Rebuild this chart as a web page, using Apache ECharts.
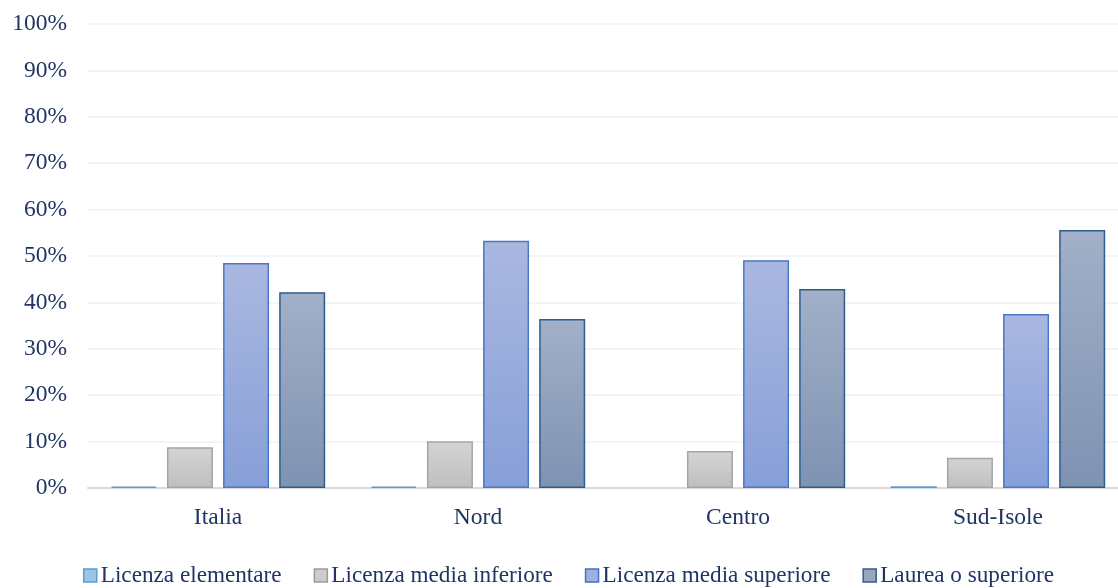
<!DOCTYPE html>
<html>
<head>
<meta charset="utf-8">
<script src="https://cdn.jsdelivr.net/npm/echarts@6/dist/echarts.min.js"></script>
<style>
  html, body { margin: 0; padding: 0; background: #fff; overflow: hidden; }
  /* plot area runs slightly past the right edge of the window, as in the original */
  #chart { width: 1128px; height: 588px; }
</style>
</head>
<body>
<div id="chart"></div>
<script>
// data (percent)
const areas = ['Italia', 'Nord', 'Centro', 'Sud-Isole']
const elementare = [0.3, 0.3, 0.0, 0.4]
const mediaInferiore = [8.8, 10.1, 8.0, 6.5]
const mediaSuperiore = [48.5, 53.3, 49.1, 37.5]
const laurea = [42.2, 36.4, 42.9, 55.6]

const textColor = '#1f3563'
const font = '"Liberation Serif", "Times New Roman", serif'

const grad = (top, bottom) => ({
  type: 'linear', x: 0, y: 0, x2: 0, y2: 1,
  colorStops: [{ offset: 0, color: top }, { offset: 1, color: bottom }]
})

// zero-height bars get no outline, like the original
const makeSeries = (name, data, fill, border) => ({
  name,
  type: 'bar',
  data: data.map(v => v === 0 ? { value: v, itemStyle: { borderWidth: 0 } } : v),
  barWidth: 46,
  barGap: '22%',
  itemStyle: { color: fill, borderColor: border, borderWidth: 1.5 }
})

const chart = echarts.init(document.getElementById('chart'))
chart.setOption({
  animation: false,
  textStyle: { fontFamily: font, color: textColor },
  grid: { left: 88, right: 0, top: 24, bottom: 100, containLabel: false },
  legend: {
    bottom: -4,
    left: 78,
    icon: 'rect',
    itemWidth: 13,
    itemHeight: 13,
    itemGap: 32,
    textStyle: { fontFamily: font, fontSize: 23.2, color: textColor, padding: [0, 0, 0, -1] },
    data: [
      { name: 'Licenza elementare', itemStyle: { color: '#9dc3e6', borderColor: '#5b9bd5', borderWidth: 1.5 } },
      { name: 'Licenza media inferiore', itemStyle: { color: '#cccccc', borderColor: '#9a9a9a', borderWidth: 1.5 } },
      { name: 'Licenza media superiore', itemStyle: { color: '#9fb0e0', borderColor: '#4472c4', borderWidth: 1.5 } },
      { name: 'Laurea o superiore', itemStyle: { color: '#97a7c2', borderColor: '#2e5d8c', borderWidth: 1.5 } }
    ]
  },
  xAxis: {
    type: 'category',
    data: areas,
    axisLine: { lineStyle: { color: '#d9d9d9', width: 2 } },
    axisTick: { show: false },
    axisLabel: { fontFamily: font, fontSize: 23.5, color: textColor, margin: 18 }
  },
  yAxis: {
    type: 'value',
    min: 0,
    max: 100,
    interval: 10,
    axisLine: { show: false },
    axisTick: { show: false },
    splitLine: { lineStyle: { color: '#edf2f8', width: 1.5 } },
    axisLabel: { fontFamily: font, fontSize: 23.5, color: textColor, margin: 21, formatter: '{value}%' }
  },
  series: [
    makeSeries('Licenza elementare', elementare, grad('#a9cdee', '#8ab6e0'), '#5b9bd5'),
    makeSeries('Licenza media inferiore', mediaInferiore, grad('#d4d4d4', '#bfbfbf'), '#a5a5a5'),
    makeSeries('Licenza media superiore', mediaSuperiore, grad('#aab8e0', '#879fd8'), '#4a78c8'),
    makeSeries('Laurea o superiore', laurea, grad('#a2b0c8', '#7e92b2'), '#2e5d8c')
  ]
})
</script>
</body>
</html>
